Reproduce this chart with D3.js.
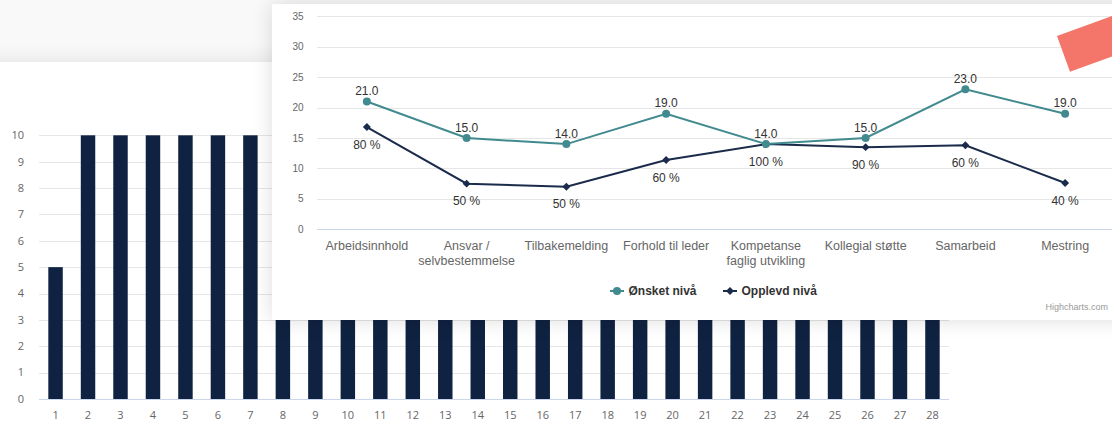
<!DOCTYPE html>
<html>
<head>
<meta charset="utf-8">
<script src="https://cdn.jsdelivr.net/npm/d3@7"></script>
<style>
  body { margin: 0; width: 1112px; height: 422px; overflow: hidden; background: #f9f9f9; position: relative; }
  .card { position: absolute; background: #fff; }
  #bg-card { left: -30px; top: 62px; width: 1200px; height: 400px; box-shadow: 0 -2px 20px rgba(0,0,0,0.09); z-index: 1; }
  #fg-card { left: 272px; top: 4px; width: 900px; height: 316px; box-shadow: 0 0 20px rgba(0,0,0,0.14); z-index: 3; }
  svg.layer { position: absolute; left: 0; top: 0; }
  #bars { z-index: 2; }
  #lines { z-index: 4; }
  text { font-family: "Liberation Sans", Arial, sans-serif; }
</style>
</head>
<body>
<div class="card" id="bg-card"></div>
<svg class="layer" id="bars" width="1112" height="422"></svg>
<div class="card" id="fg-card"></div>
<svg class="layer" id="lines" width="1112" height="422"></svg>
<script>
// background bar chart
const barCategories = d3.range(1, 29).map(String);
const barValues = [5, 10, 10, 10, 10, 10, 10, 10, 10, 10, 10, 10, 10, 10,
  10, 10, 10, 10, 10, 10, 10, 10, 10, 10, 10, 10, 10, 10];
const barTicks = d3.range(0, 11);

// foreground line chart
const categories = [['Arbeidsinnhold'], ['Ansvar /', 'selvbestemmelse'], ['Tilbakemelding'],
  ['Forhold til leder'], ['Kompetanse', 'faglig utvikling'], ['Kollegial støtte'],
  ['Samarbeid'], ['Mestring']];
const onsket = [21, 15, 14, 19, 14, 15, 23, 19];
const opplevd = [16.8, 7.5, 7.0, 11.4, 14.0, 13.5, 13.8, 7.6];
const opplevdPct = ['80 %', '50 %', '50 %', '60 %', '100 %', '90 %', '60 %', '40 %'];
const lineTicks = [0, 5, 10, 15, 20, 25, 30, 35];
const seriesNames = ['Ønsket nivå', 'Opplevd nivå'];

const teal = '#418a8f';
const navy = '#1a2b4b';
const barColor = '#0f2241';

// ---- bar chart ----
{
  const svg = d3.select('#bars');
  const x = d3.scaleBand().domain(barCategories).range([39.3, 948.7]).paddingInner(0.555).paddingOuter(0.2775);
  const y = d3.scaleLinear().domain([0, 10]).range([399, 135.3]);

  svg.append('g')
    .selectAll('line').data(barTicks.slice(1)).join('line')
      .attr('x1', 39).attr('x2', 949)
      .attr('y1', d => Math.round(y(d)) + 0.5).attr('y2', d => Math.round(y(d)) + 0.5)
      .attr('stroke', '#e6e6e6');

  svg.append('g')
    .selectAll('rect').data(barValues).join('rect')
      .attr('x', (d, i) => x(barCategories[i]))
      .attr('width', x.bandwidth())
      .attr('y', d => y(d))
      .attr('height', d => y(0) - y(d))
      .attr('fill', barColor);

  svg.append('line')
    .attr('x1', 39).attr('x2', 949).attr('y1', 399.5).attr('y2', 399.5)
    .attr('stroke', '#ccd6eb');

  svg.append('g')
    .selectAll('text').data(barTicks).join('text')
      .attr('x', 24).attr('y', d => y(d)).attr('dy', '0.35em')
      .attr('text-anchor', 'end')
      .style('font-family', '"Open Sans", sans-serif').style('font-size', '11px')
      .attr('fill', '#666')
      .text(d => d);

  svg.append('g')
    .selectAll('text').data(barCategories).join('text')
      .attr('x', d => x(d) + x.bandwidth() / 2).attr('y', 415).attr('dy', '0.35em')
      .attr('text-anchor', 'middle')
      .style('font-family', '"Open Sans", sans-serif').style('font-size', '11px')
      .attr('fill', '#666')
      .text(d => d);
}

// ---- line chart ----
{
  const svg = d3.select('#lines');
  const x = d3.scaleBand().domain(d3.range(categories.length)).range([317, 1115]);
  const cx = i => x(i) + x.bandwidth() / 2;
  const y = d3.scaleLinear().domain([0, 35]).range([229.3, 16.3]);

  svg.append('g')
    .selectAll('line').data(lineTicks.slice(1)).join('line')
      .attr('x1', 317).attr('x2', 1115)
      .attr('y1', d => Math.round(y(d)) + 0.5).attr('y2', d => Math.round(y(d)) + 0.5)
      .attr('stroke', '#e6e6e6');
  svg.append('line')
    .attr('x1', 317).attr('x2', 1115).attr('y1', 229.5).attr('y2', 229.5)
    .attr('stroke', '#ccd6eb');

  svg.append('g')
    .selectAll('text').data(lineTicks).join('text')
      .attr('x', 303.5).attr('y', d => y(d)).attr('dy', '0.35em')
      .attr('text-anchor', 'end')
      .style('font-size', '10px').attr('fill', '#666')
      .text(d => d);

  const xl = svg.append('g')
    .selectAll('text').data(categories).join('text')
      .attr('x', (d, i) => cx(i)).attr('y', 245.7)
      .attr('text-anchor', 'middle')
      .style('font-size', '12.5px').attr('fill', '#666');
  xl.selectAll('tspan').data(d => d).join('tspan')
    .attr('x', function () { return this.parentNode.getAttribute('x'); })
    .attr('dy', (d, i) => i === 0 ? '0.35em' : '14.5px')
    .text(d => d);

  const line = d3.line().x((d, i) => cx(i)).y(d => y(d));

  // Opplevd
  svg.append('path').datum(opplevd)
    .attr('d', line).attr('fill', 'none').attr('stroke', navy).attr('stroke-width', 2);
  svg.append('g').selectAll('path').data(opplevd).join('path')
    .attr('d', d3.symbol(d3.symbolDiamond2, 40))
    .attr('transform', (d, i) => `translate(${cx(i)},${y(d)})`)
    .attr('fill', navy);
  svg.append('g').selectAll('text').data(opplevd).join('text')
    .attr('x', (d, i) => cx(i)).attr('y', d => y(d) + 17.5).attr('dy', '0.35em')
    .attr('text-anchor', 'middle').style('font-size', '12px').attr('fill', '#333')
    .text((d, i) => opplevdPct[i]);

  // Onsket
  svg.append('path').datum(onsket)
    .attr('d', line).attr('fill', 'none').attr('stroke', teal).attr('stroke-width', 2);
  svg.append('g').selectAll('circle').data(onsket).join('circle')
    .attr('cx', (d, i) => cx(i)).attr('cy', d => y(d)).attr('r', 4)
    .attr('fill', teal);
  svg.append('g').selectAll('text').data(onsket).join('text')
    .attr('x', (d, i) => cx(i)).attr('y', d => y(d) - 10.5).attr('dy', '0.35em')
    .attr('text-anchor', 'middle').style('font-size', '12px').attr('fill', '#333')
    .text(d => d3.format('.1f')(d));

  // legend
  const legend = svg.append('g').attr('transform', 'translate(610,291)');
  const item1 = legend.append('g');
  item1.append('line').attr('x1', 0).attr('x2', 14).attr('stroke', teal).attr('stroke-width', 2);
  item1.append('circle').attr('cx', 7).attr('r', 4).attr('fill', teal);
  item1.append('text').attr('x', 18.5).attr('dy', '0.35em')
    .style('font-size', '12px').style('font-weight', 'bold').attr('fill', '#333')
    .text(seriesNames[0]);
  const item2 = legend.append('g').attr('transform', 'translate(113,0)');
  item2.append('line').attr('x1', 0).attr('x2', 14).attr('stroke', navy).attr('stroke-width', 2);
  item2.append('path').attr('d', d3.symbol(d3.symbolDiamond2, 40)).attr('transform', 'translate(7,0)').attr('fill', navy);
  item2.append('text').attr('x', 18.5).attr('dy', '0.35em')
    .style('font-size', '12px').style('font-weight', 'bold').attr('fill', '#333')
    .text(seriesNames[1]);

  svg.append('text').attr('x', 1108).attr('y', 307).attr('dy', '0.35em')
    .attr('text-anchor', 'end')
    .style('font-size', '9px').attr('fill', '#999').text('Highcharts.com');

  // decorative coral shape in the corner
  svg.append('rect')
    .attr('x', 0).attr('y', 0).attr('width', 90).attr('height', 38)
    .attr('transform', 'translate(1057,36) rotate(-20)')
    .attr('fill', '#f4756a');
}
</script>
</body>
</html>
